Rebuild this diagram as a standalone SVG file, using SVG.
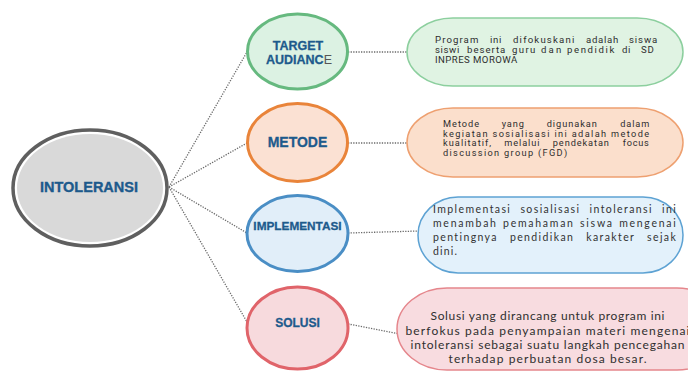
<svg xmlns="http://www.w3.org/2000/svg" width="688" height="372" viewBox="0 0 688 372">
  <style>
    .link { fill: none; stroke: #6b6b6b; stroke-width: 1.3; stroke-dasharray: 1.3 1.3; }
    .hub-text { font-family: "Liberation Sans", Arial, sans-serif; font-weight: 700; font-size: 14.5px; fill: #1d5a8c; stroke: #1d5a8c; stroke-width: 0.35; text-anchor: middle; }
    .topic { font-family: "Liberation Sans", Arial, sans-serif; font-weight: 700; fill: #1d5a8c; stroke: #1d5a8c; stroke-width: 0.3; text-anchor: middle; }
    .note-a { font-family: Roboto, "Liberation Sans", sans-serif; font-size: 9.6px; letter-spacing: 0.7px; fill: #2e2e2e; }
    .note-b { font-family: Roboto, "Liberation Sans", sans-serif; font-size: 9.2px; letter-spacing: 0.9px; fill: #2e2e2e; }
    .note-c { font-family: Lato, "Liberation Sans", sans-serif; font-size: 10.5px; letter-spacing: 1.2px; fill: #333333; }
    .note-d { font-family: Lato, "Liberation Sans", sans-serif; font-size: 12px; fill: #2f2f2f; text-anchor: middle; }
  </style>

  <rect width="688" height="372" fill="#ffffff"/>

  <!-- dotted connectors -->
  <g id="connectors">
    <line class="link" x1="169" y1="187" x2="247" y2="52"/>
    <line class="link" x1="169" y1="187" x2="247" y2="143"/>
    <line class="link" x1="169" y1="187" x2="247" y2="233"/>
    <line class="link" x1="169" y1="187" x2="247" y2="322"/>
    <line class="link" x1="348" y1="52" x2="407" y2="52"/>
    <line class="link" x1="348" y1="143" x2="407" y2="143"/>
    <line class="link" x1="348" y1="233" x2="419" y2="231"/>
    <line class="link" x1="348" y1="324" x2="400" y2="334"/>
  </g>

  <!-- central topic -->
  <g id="intoleransi">
    <ellipse cx="90" cy="188" rx="77" ry="58" fill="#ffffff" stroke="#5f5f5f" stroke-width="3.5"/>
    <ellipse cx="90" cy="188" rx="73" ry="54" fill="#d9d9d9"/>
    <text class="hub-text" x="89" y="192">INTOLERANSI</text>
  </g>

  <!-- branch: target audience -->
  <g id="target-audiance">
    <ellipse cx="297.5" cy="51.5" rx="50" ry="37.5" fill="#dcf2e3" stroke="#66b97f" stroke-width="3"/>
    <text class="topic" font-size="12.5" x="298" y="50">TARGET</text>
    <text class="topic" font-size="12.5" x="299" y="64">AUDIANC<tspan font-weight="400" fill="#555555" stroke="none">E</tspan></text>
  </g>

  <!-- branch: method -->
  <g id="metode">
    <ellipse cx="297.5" cy="142.5" rx="50" ry="39" fill="#fbe1d3" stroke="#e9843a" stroke-width="3"/>
    <text class="topic" font-size="14" x="297.5" y="147">METODE</text>
  </g>

  <!-- branch: implementation -->
  <g id="implementasi">
    <ellipse cx="297.5" cy="233.5" rx="50.5" ry="38" fill="#e1eef9" stroke="#4a8ec5" stroke-width="3"/>
    <text class="topic" font-size="11.8" x="297.5" y="229.5">IMPLEMENTASI</text>
  </g>

  <!-- branch: solution -->
  <g id="solusi">
    <ellipse cx="297.5" cy="328" rx="50.5" ry="41" fill="#f7dadd" stroke="#e0646a" stroke-width="3"/>
    <text class="topic" font-size="12" x="297.5" y="326.5">SOLUSI</text>
  </g>

  <!-- detail: target audience (justified words) -->
  <g id="detail-target">
    <rect x="407" y="18" width="276" height="68" rx="46" ry="34" fill="#e0f3e3" stroke="#8ccf9e" stroke-width="1.5"/>
    <text class="note-a" y="42.5"><tspan x="435" textLength="44">Program</tspan><tspan x="490">ini</tspan><tspan x="513" textLength="62">difokuskani</tspan><tspan x="586" textLength="33">adalah</tspan><tspan x="629" textLength="29">siswa</tspan></text>
    <text class="note-a" y="52.5"><tspan x="435" textLength="25">siswi</tspan><tspan x="467" textLength="39">beserta</tspan><tspan x="512" textLength="24">guru</tspan><tspan x="541" textLength="21">dan</tspan><tspan x="567" textLength="48">pendidik</tspan><tspan x="622">di</tspan><tspan x="641">SD</tspan></text>
    <text class="note-a" x="435" y="62.5" textLength="83">INPRES MOROWA</text>
  </g>

  <!-- detail: method (justified words) -->
  <g id="detail-metode">
    <rect x="407" y="108" width="276" height="69" rx="46" ry="34.5" fill="#fbdfcc" stroke="#eea070" stroke-width="1.5"/>
    <text class="note-b" y="127"><tspan x="443" textLength="37">Metode</tspan><tspan x="501.7" textLength="23">yang</tspan><tspan x="546.7" textLength="51">digunakan</tspan><tspan x="620.2" textLength="30">dalam</tspan></text>
    <text class="note-b" x="443" y="136.6" textLength="207" lengthAdjust="spacing">kegiatan sosialisasi ini adalah metode</text>
    <text class="note-b" y="146.2"><tspan x="443" textLength="49">kualitatif,</tspan><tspan x="504.3" textLength="36">melalui</tspan><tspan x="552.8" textLength="57">pendekatan</tspan><tspan x="622.7" textLength="27">focus</tspan></text>
    <text class="note-b" x="443" y="155.8" textLength="125">discussion group (FGD)</text>
  </g>

  <!-- detail: implementation -->
  <g id="detail-implementasi">
    <rect x="418" y="197" width="265" height="76" rx="40" ry="38" fill="#e3f1fb" stroke="#5da2d3" stroke-width="1.5"/>
    <text class="note-c" x="433" y="212.5" word-spacing="5" textLength="244" lengthAdjust="spacing">Implementasi sosialisasi intoleransi ini</text>
    <text class="note-c" x="433" y="226.5" word-spacing="1" textLength="244" lengthAdjust="spacing">menambah pemahaman siswa mengenai</text>
    <text class="note-c" x="433" y="240.5" word-spacing="8" textLength="244" lengthAdjust="spacing">pentingnya pendidikan karakter sejak</text>
    <text class="note-c" x="433" y="254.5">dini.</text>
  </g>

  <!-- detail: solution -->
  <g id="detail-solusi">
    <rect x="397" y="288" width="330" height="82" rx="50" ry="41" fill="#f8dce0" stroke="#e5868c" stroke-width="1.5"/>
    <text class="note-d" x="547.5" y="320" textLength="234" lengthAdjust="spacing">Solusi yang dirancang untuk program ini</text>
    <text class="note-d" x="547.5" y="334.5" textLength="284" lengthAdjust="spacing">berfokus pada penyampaian materi mengenai</text>
    <text class="note-d" x="547.5" y="349" textLength="274" lengthAdjust="spacing">intoleransi sebagai suatu langkah pencegahan</text>
    <text class="note-d" x="547.5" y="363" textLength="198" lengthAdjust="spacing">terhadap perbuatan dosa besar.</text>
  </g>
</svg>
